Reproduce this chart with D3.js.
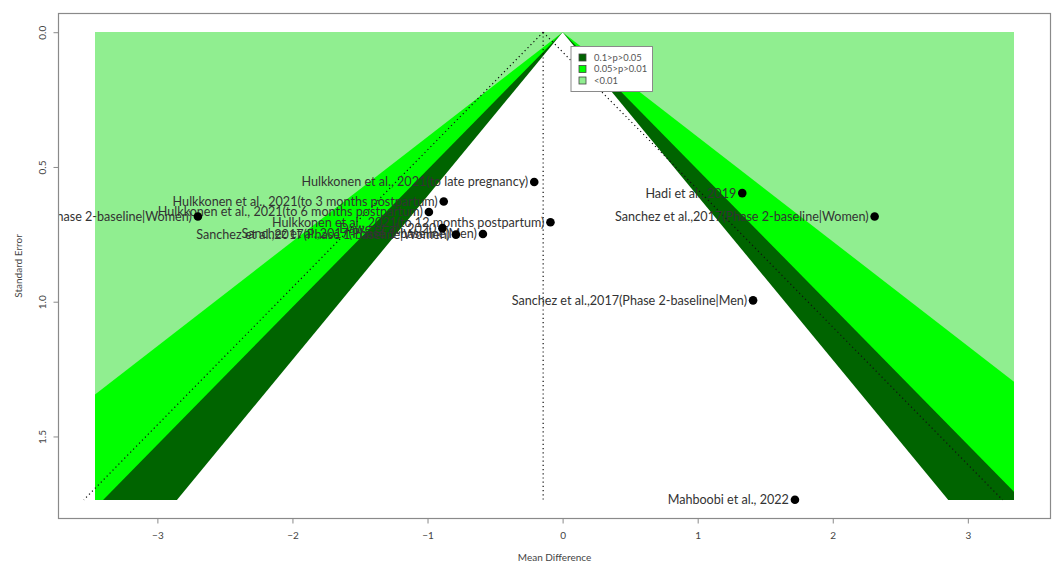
<!DOCTYPE html>
<html>
<head>
<meta charset="utf-8">
<script src="https://cdn.jsdelivr.net/npm/d3@7"></script>
<style>
  html, body { margin: 0; padding: 0; background: #fff; }
  svg { display: block; }
</style>
</head>
<body>
<svg id="chart" width="1057" height="563"></svg>
<script>
// Study labels, mean differences and standard errors
const studies = [
  "Hulkkonen et al., 2021(to late pregnancy)",
  "Hulkkonen et al., 2021(to 3 months postpartum)",
  "Hulkkonen et al., 2021(to 6 months postpartum)",
  "Sanchez et al.,2017(Phase 2-baseline|Women)",
  "Hulkkonen et al., 2021(to 12 months postpartum)",
  "Dawe et al., 2020",
  "Sanchez et al.,2017(Phase 1-baseline|Women)",
  "Sanchez et al.,2017(Phase 1-baseline|Men)",
  "Hadi et al., 2019",
  "Sanchez et al.,2017(Phase 2-baseline|Women)",
  "Sanchez et al.,2017(Phase 2-baseline|Men)",
  "Mahboobi et al., 2022"
];
const meanDiff = [-0.21, -0.88, -0.99, -2.70, -0.09, -0.89, -0.79, -0.59, 1.33, 2.31, 1.41, 1.72];
const stdErr   = [0.556, 0.628, 0.667, 0.684, 0.705, 0.727, 0.751, 0.749, 0.597, 0.684, 0.995, 1.735];

// Pooled estimate and contour settings
const pooled = -0.144;
const contourZ = [2.576, 1.960, 1.645];          // 99%, 95%, 90% two-sided
const legendLabels = ["0.1>p>0.05", "0.05>p>0.01", "<0.01"];
const xTicks = [-3, -2, -1, 0, 1, 2, 3];
const yTicks = [0, 0.5, 1, 1.5];
const shadeX = [-3.46, 3.34];                     // horizontal extent of the shaded area
const seMax = d3.max(stdErr);

// Styles
const fillLight = "#90EE90", fillGreen = "#00FF00", fillDark = "#006400";
const legendFills = [fillDark, fillGreen, fillLight];
const textFont = "Lato, 'Open Sans', sans-serif";

const svg = d3.select("#chart");
const box = { left: 58.5, right: 1050.5, top: 13.5, bottom: 518.5 };

// R-style 4% padding around the data ranges
const xr = shadeX[1] - shadeX[0];
const x = d3.scaleLinear()
  .domain([shadeX[0] - 0.04 * xr, shadeX[1] + 0.04 * xr])
  .range([box.left, box.right]);
const y = d3.scaleLinear()
  .domain([0 - 0.04 * seMax, seMax + 0.04 * seMax])
  .range([box.top, box.bottom]);

// Shaded area bounds, snapped to whole pixels
const sx0 = Math.round(x(shadeX[0])), sx1 = Math.round(x(shadeX[1]));
const sy0 = Math.round(y(0)), sy1 = Math.round(y(seMax));

const defs = svg.append("defs");
defs.append("clipPath").attr("id", "shadeClip").append("rect")
  .attr("x", sx0).attr("y", sy0 - 20)
  .attr("width", sx1 - sx0).attr("height", sy1 - sy0 + 20)
  .attr("shape-rendering", "crispEdges");
defs.append("clipPath").attr("id", "boxClip").append("rect")
  .attr("x", box.left).attr("y", box.top)
  .attr("width", box.right - box.left).attr("height", box.bottom - box.top);

// Contour shading: light rectangle, then nested funnels around zero
const shade = svg.append("g").attr("clip-path", "url(#shadeClip)");
shade.append("rect")
  .attr("x", sx0).attr("y", sy0)
  .attr("width", sx1 - sx0).attr("height", sy1 - sy0)
  .attr("shape-rendering", "crispEdges")
  .attr("fill", fillLight);
const funnelFills = [fillGreen, fillDark, "#ffffff"];
const seExt = seMax * 1.1;
contourZ.forEach((z, i) => {
  const pts = [[0, 0], [-z * seExt, seExt], [z * seExt, seExt]];
  shade.append("path")
    .attr("d", d3.line().x(d => x(d[0])).y(d => y(d[1]))(pts) + "Z")
    .attr("fill", funnelFills[i]);
});
// trim the funnels at the largest standard error
shade.append("rect")
  .attr("x", sx0 - 5).attr("y", sy1)
  .attr("width", sx1 - sx0 + 10).attr("height", 30)
  .attr("shape-rendering", "crispEdges")
  .attr("fill", "#fff");

// Pooled-estimate reference lines (dotted)
const dotted = svg.append("g").attr("fill", "none").attr("stroke", "#111")
  .attr("stroke-width", 1.2).attr("stroke-dasharray", "1.2,3");
dotted.append("line")
  .attr("x1", x(pooled)).attr("x2", x(pooled))
  .attr("y1", y(0)).attr("y2", y(seMax));
[-1, 1].forEach(s => {
  dotted.append("line")
    .attr("x1", x(pooled)).attr("y1", y(0))
    .attr("x2", x(pooled + s * contourZ[1] * seMax)).attr("y2", y(seMax));
});

// Study labels, clipped to the plot region
const labels = svg.append("g").attr("clip-path", "url(#boxClip)");
labels.selectAll("text").data(studies).join("text")
  .attr("x", (d, i) => x(meanDiff[i]) - 6)
  .attr("y", (d, i) => y(stdErr[i]))
  .attr("dy", "0.35em")
  .attr("text-anchor", "end")
  .attr("font-family", textFont)
  .attr("font-size", 12.6)
  .attr("fill", "#333")
  .text(d => d);

// Study points
svg.append("g").selectAll("circle").data(meanDiff).join("circle")
  .attr("cx", d => x(d))
  .attr("cy", (d, i) => y(stdErr[i]))
  .attr("r", 4.3)
  .attr("fill", "#000");

// Plot frame
svg.append("rect")
  .attr("x", box.left).attr("y", box.top)
  .attr("width", box.right - box.left).attr("height", box.bottom - box.top)
  .attr("fill", "none").attr("stroke", "#8a8a8a").attr("stroke-width", 1.2);

// Axes
const gx = svg.append("g").attr("transform", `translate(0,${box.bottom})`)
  .call(d3.axisBottom(x).tickValues(xTicks).tickSize(5).tickPadding(8).tickFormat(d3.format("d")));
gx.select(".domain").remove();
gx.selectAll("line").attr("stroke", "#8a8a8a");
gx.selectAll("text").attr("font-family", textFont).attr("font-size", 10).attr("fill", "#444");

const gy = svg.append("g").attr("transform", `translate(${box.left},0)`)
  .call(d3.axisLeft(y).tickValues(yTicks).tickSize(5).tickFormat(d3.format(".1f")));
gy.select(".domain").remove();
gy.selectAll("line").attr("stroke", "#8a8a8a");
gy.selectAll("text")
  .attr("font-family", textFont).attr("font-size", 10).attr("fill", "#444")
  .attr("text-anchor", "middle")
  .attr("x", 0).attr("dy", 0)
  .attr("transform", "translate(-13,0) rotate(-90)");

svg.append("text")
  .attr("x", (box.left + box.right) / 2).attr("y", 561)
  .attr("text-anchor", "middle")
  .attr("font-family", textFont).attr("font-size", 10).attr("fill", "#444")
  .text("Mean Difference");
svg.append("text")
  .attr("transform", `translate(22,${(box.top + box.bottom) / 2}) rotate(-90)`)
  .attr("text-anchor", "middle")
  .attr("font-family", textFont).attr("font-size", 10).attr("fill", "#444")
  .text("Standard Error");

// Legend
const lg = svg.append("g").attr("transform", "translate(571,46.5)");
lg.append("rect").attr("width", 81.5).attr("height", 45)
  .attr("fill", "#fff").attr("stroke", "#8a8a8a").attr("stroke-width", 1);
legendLabels.forEach((t, i) => {
  const cy = 11 + i * 11.5;
  lg.append("rect").attr("x", 8).attr("y", cy - 3.5).attr("width", 7).attr("height", 7)
    .attr("fill", legendFills[i]).attr("stroke", "#444").attr("stroke-width", 0.8);
  lg.append("text").attr("x", 23).attr("y", cy).attr("dy", "0.35em")
    .attr("font-family", textFont).attr("font-size", 9.4).attr("fill", "#555")
    .text(t);
});
</script>
</body>
</html>
